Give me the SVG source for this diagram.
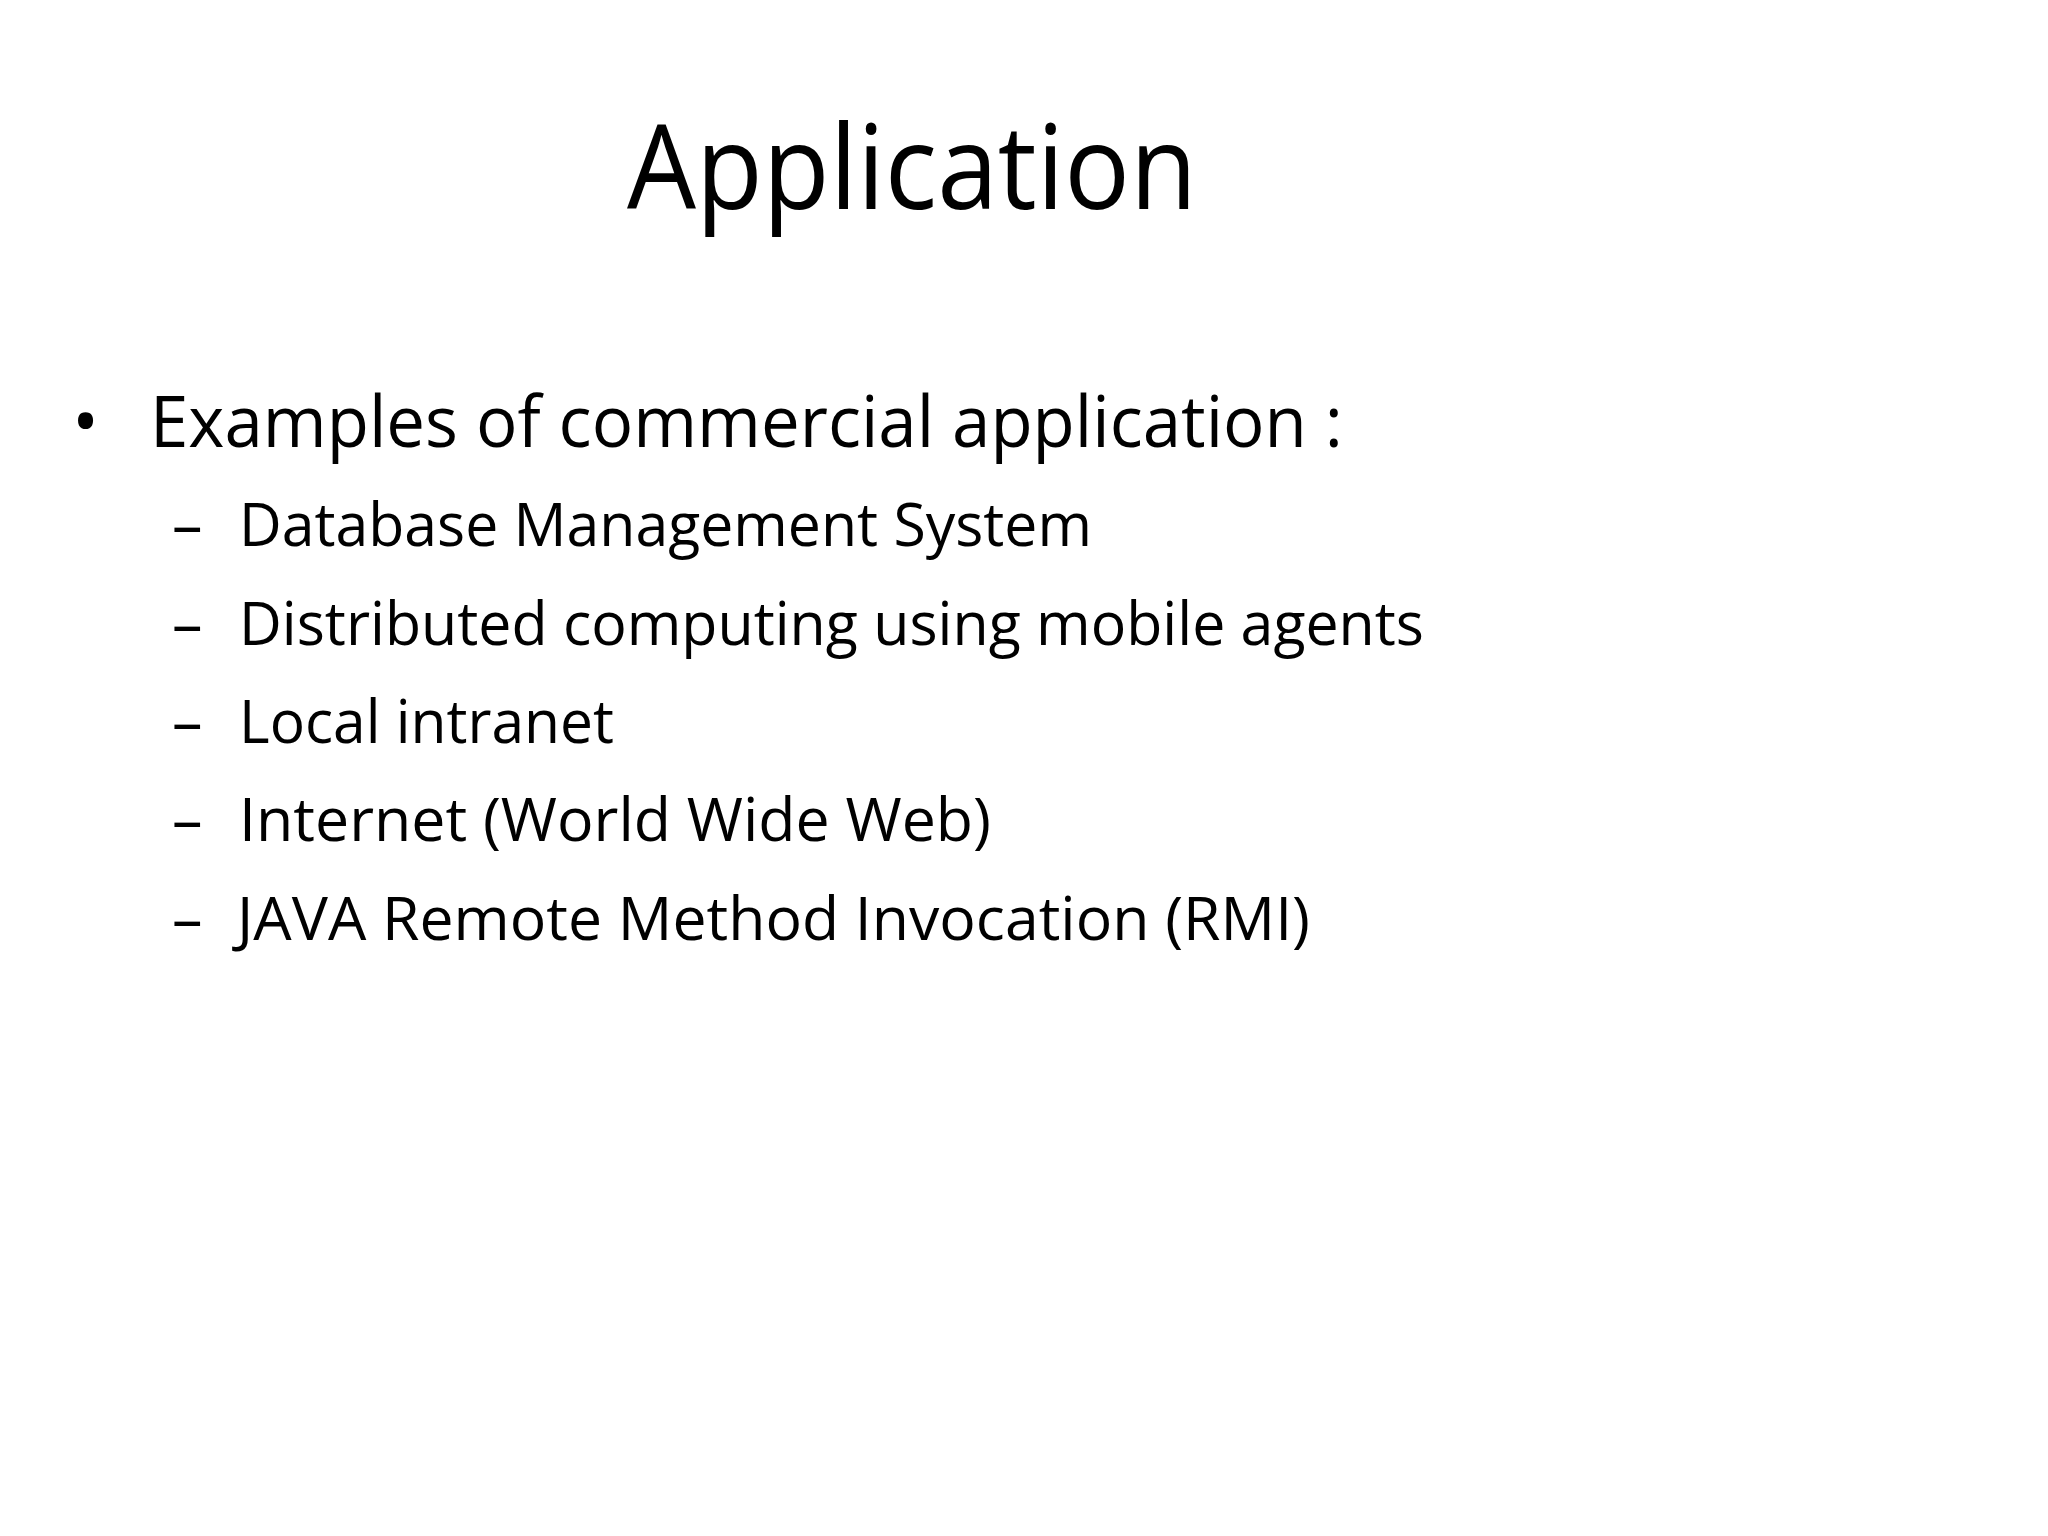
<svg xmlns="http://www.w3.org/2000/svg" width="2048" height="1536" viewBox="0 0 2048 1536">
<style>
text{font-family:"Open Sans","Noto Sans","Liberation Sans",sans-serif;fill:#000}
.t{font-size:118px}
.b{font-size:72px}
.s{font-size:61px}
</style>
<rect width="2048" height="1536" fill="#fff"/>
<text class="t" x="627" y="209" textLength="570" lengthAdjust="spacingAndGlyphs">Application</text>
<text class="b" x="72" y="447">•</text>
<text class="b" x="150" y="447" textLength="1193" lengthAdjust="spacingAndGlyphs">Examples of commercial application :</text>
<g class="s">
<text class="s" x="172" y="546">–</text>
<text class="s" x="239" y="546" textLength="853" lengthAdjust="spacingAndGlyphs">Database Management System</text>
<text class="s" x="172" y="645">–</text>
<text class="s" x="239" y="645" textLength="1185" lengthAdjust="spacingAndGlyphs">Distributed computing using mobile agents</text>
<text class="s" x="172" y="743">–</text>
<text class="s" x="239" y="743" textLength="375" lengthAdjust="spacingAndGlyphs">Local intranet</text>
<text class="s" x="172" y="841">–</text>
<text class="s" x="239" y="841" textLength="752" lengthAdjust="spacingAndGlyphs">Internet (World Wide Web)</text>
<text class="s" x="172" y="940">–</text>
<text class="s" x="237" y="940" textLength="1073" lengthAdjust="spacingAndGlyphs">JAVA Remote Method Invocation (RMI)</text>
</g>
</svg>
